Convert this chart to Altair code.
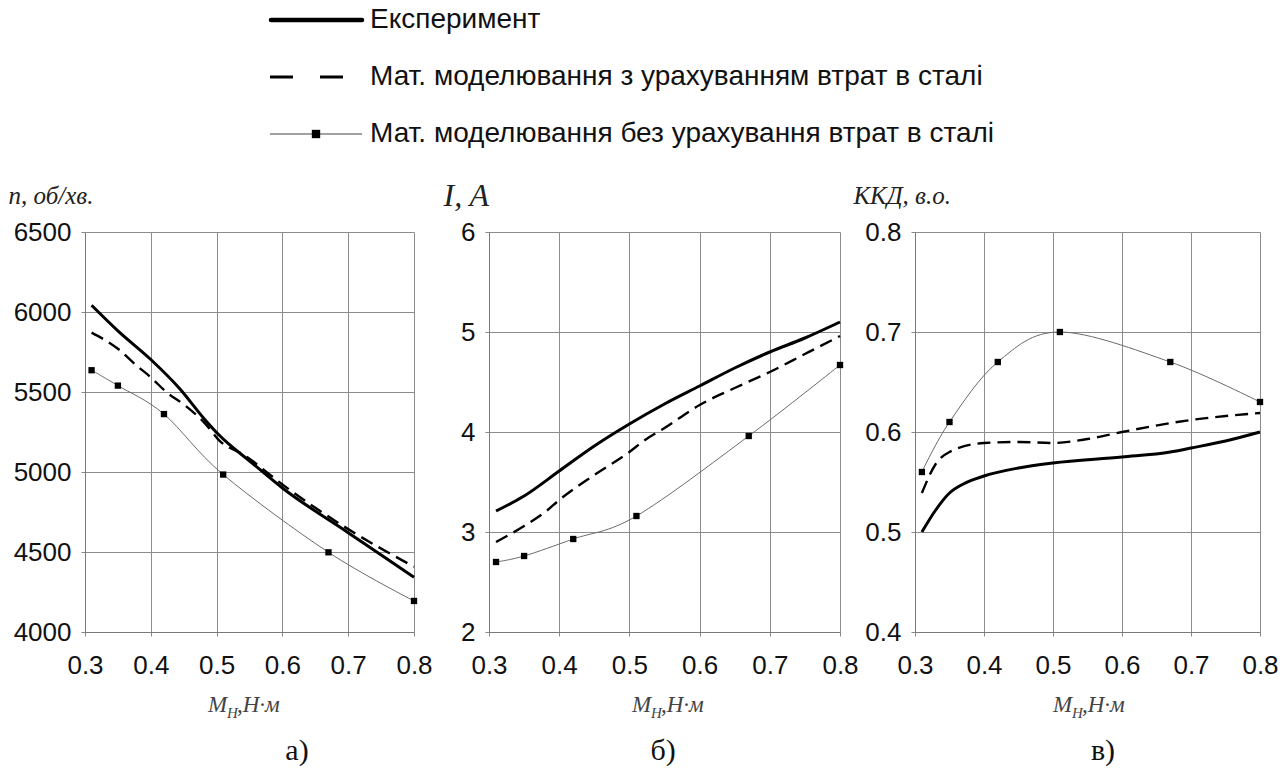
import altair as alt
import pandas as pd

SERIES = [
    "Експеримент",
    "Мат. моделювання з урахуванням втрат в сталі",
    "Мат. моделювання без урахування втрат в сталі",
]

X_TICKS = [0.3, 0.4, 0.5, 0.6, 0.7, 0.8]

# a) shaft speed n, rpm
n_exp_x = [0.31, 0.35, 0.40, 0.443, 0.483, 0.503, 0.554, 0.60, 0.70, 0.80]
n_exp_y = [6042, 5882, 5703, 5525, 5324, 5234, 5056, 4900, 4621, 4342]
n_mod_x = [0.31, 0.35, 0.377, 0.40, 0.423, 0.453, 0.483, 0.503, 0.544, 0.60, 0.70, 0.80]
n_mod_y = [5871, 5770, 5670, 5592, 5502, 5413, 5301, 5201, 5100, 4922, 4643, 4408]
n_pts_x = [0.31, 0.35, 0.42, 0.51, 0.67, 0.80]
n_pts_y = [5636, 5540, 5362, 4984, 4498, 4194]

# b) current I, A
i_exp_x = [0.31, 0.35, 0.40, 0.45, 0.50, 0.55, 0.60, 0.65, 0.70, 0.75, 0.80]
i_exp_y = [3.21, 3.36, 3.61, 3.86, 4.08, 4.28, 4.46, 4.64, 4.80, 4.94, 5.10]
i_mod_x = [0.31, 0.35, 0.38, 0.40, 0.45, 0.50, 0.52, 0.55, 0.60, 0.65, 0.70, 0.75, 0.80]
i_mod_y = [2.90, 3.06, 3.20, 3.32, 3.57, 3.80, 3.91, 4.04, 4.27, 4.44, 4.60, 4.78, 4.96]
i_pts_x = [0.31, 0.35, 0.42, 0.51, 0.67, 0.80]
i_pts_y = [2.70, 2.76, 2.93, 3.16, 3.96, 4.67]

# c) efficiency, p.u.
e_exp_x = [0.31, 0.33, 0.35, 0.37, 0.40, 0.45, 0.50, 0.60, 0.67, 0.70, 0.75, 0.80]
e_exp_y = [0.500, 0.522, 0.539, 0.548, 0.556, 0.564, 0.569, 0.575, 0.580, 0.584, 0.591, 0.600]
e_mod_x = [0.31, 0.33, 0.35, 0.40, 0.45, 0.50, 0.55, 0.60, 0.70, 0.80]
e_mod_y = [0.539, 0.568, 0.580, 0.589, 0.590, 0.589, 0.593, 0.600, 0.612, 0.619]
e_pts_x = [0.31, 0.35, 0.42, 0.51, 0.67, 0.80]
e_pts_y = [0.56, 0.61, 0.67, 0.70, 0.67, 0.63]

PLOT_H = 400
SANS = "Liberation Sans"
SERIF = "Liberation Serif"
NO_FRAME = alt.ViewBackground(strokeWidth=0, strokeOpacity=0)


def one_text(text, x, y, size, color="#111", italic=False, align="left", baseline="alphabetic"):
    kw = dict(font=SERIF, fontSize=size, color=color, align=align, baseline=baseline)
    if italic:
        kw["fontStyle"] = "italic"
    return (
        alt.Chart(pd.DataFrame({"t": [text]}))
        .mark_text(**kw)
        .encode(text="t:N", x=alt.value(x), y=alt.value(y))
    )


def panel(width, ex, ey, mx, my, px, py, ydom, yticks, yfmt, ytitle, ytitle_size,
          ytitle_x, xtitle_cx, sub_label, sub_cx):
    xs = alt.Scale(domain=[0.3, 0.8], nice=False, zero=False)
    ys = alt.Scale(domain=ydom, nice=False, zero=False)
    xaxis = alt.Axis(
        values=X_TICKS, format=".1f", title=None, labelFlush=False,
        labelFont=SANS, labelFontSize=26, labelColor="#111", labelPadding=16,
        tickSize=4, tickColor="#888", domainColor="#7a7a7a",
        gridColor="#8c8c8c", gridWidth=1, labelOverlap=False,
    )
    yaxis = alt.Axis(
        values=yticks, format=yfmt, title=ytitle, labelFlush=False,
        labelFont=SANS, labelFontSize=26, labelColor="#111", labelPadding=10,
        tickSize=4, tickColor="#888", domainColor="#7a7a7a",
        gridColor="#8c8c8c", gridWidth=1, labelOverlap=False,
        titleFont=SERIF, titleFontStyle="italic", titleFontWeight="normal",
        titleFontSize=ytitle_size, titleColor="#222", titleAngle=0,
        titleAlign="left", titleBaseline="middle", titleX=ytitle_x, titleY=-37,
    )
    enc = dict(x=alt.X("x:Q", scale=xs, axis=xaxis), y=alt.Y("y:Q", scale=ys, axis=yaxis))

    exp_line = alt.Chart(pd.DataFrame({"x": ex, "y": ey})).mark_line(
        color="black", strokeWidth=3, interpolate="monotone"
    ).encode(**enc)
    mod_line = alt.Chart(pd.DataFrame({"x": mx, "y": my})).mark_line(
        color="black", strokeWidth=2.4, strokeDash=[13, 7], interpolate="monotone"
    ).encode(**enc)
    pts_df = pd.DataFrame({"x": px, "y": py})
    thin_line = alt.Chart(pts_df).mark_line(
        color="#6a6a6a", strokeWidth=1, interpolate="cardinal"
    ).encode(**enc)
    markers = alt.Chart(pts_df).mark_point(
        shape="square", filled=True, size=40, color="black", opacity=1
    ).encode(**enc)

    # x-axis title M_H, N·m with a subscript
    x0 = xtitle_cx - 36
    base_y = 480
    t1 = one_text("M", x0, base_y, 23, color="#444", italic=True)
    t2 = one_text("Н", x0 + 19, base_y + 6, 15, color="#444", italic=True)
    t3 = one_text(",Н·м", x0 + 29, base_y, 23, color="#444", italic=True)
    sub = one_text(sub_label, sub_cx, 528, 30, color="#111", align="center")

    return alt.layer(exp_line, mod_line, thin_line, markers, t1, t2, t3, sub).properties(
        width=width, height=PLOT_H, view=NO_FRAME
    )


p1 = panel(329, n_exp_x, n_exp_y, n_mod_x, n_mod_y, n_pts_x, n_pts_y,
           [4000, 6500], [4000, 4500, 5000, 5500, 6000, 6500], "d",
           "n, об/хв.", 25, -77, 159, "а)", 212)
p2 = panel(351, i_exp_x, i_exp_y, i_mod_x, i_mod_y, i_pts_x, i_pts_y,
           [2, 6], [2, 3, 4, 5, 6], "d",
           "I, A", 32, -46, 179, "б)", 174)
p3 = panel(345, e_exp_x, e_exp_y, e_mod_x, e_mod_y, e_pts_x, e_pts_y,
           [0.4, 0.8], [0.4, 0.5, 0.6, 0.7, 0.8], ".1f",
           "ККД, в.о.", 25, -62, 174, "в)", 188)

# legend block above the panels
leg_df = pd.DataFrame({"series": SERIES, "row": [0, 1, 2]})
leg_y = alt.Y("row:Q", scale=alt.Scale(domain=[0, 2], reverse=True), axis=None)
leg_base = alt.Chart(leg_df)
leg_exp = leg_base.transform_filter("datum.row == 0").mark_rule(
    color="black", strokeWidth=4.5, strokeCap="round"
).encode(x=alt.value(186), x2=alt.value(277), y=leg_y)
leg_mod = leg_base.transform_filter("datum.row == 1").mark_rule(
    color="black", strokeWidth=3, strokeDash=[23, 27]
).encode(x=alt.value(185), x2=alt.value(260), y=leg_y)
leg_thin = leg_base.transform_filter("datum.row == 2").mark_rule(
    color="#444", strokeWidth=1.2
).encode(x=alt.value(185), x2=alt.value(277), y=leg_y)
leg_mark = leg_base.transform_filter("datum.row == 2").mark_point(
    shape="square", filled=True, size=70, color="black", opacity=1
).encode(x=alt.value(231), y=leg_y)
leg_text = leg_base.mark_text(
    font=SANS, fontSize=28, color="#111", align="left", baseline="middle"
).encode(x=alt.value(285), y=leg_y, text="series:N")

legend = alt.layer(leg_exp, leg_mod, leg_thin, leg_mark, leg_text).properties(
    width=600, height=114, view=NO_FRAME
)

row = alt.hconcat(p1, p2, p3, spacing=75, bounds="flush")
chart = (
    alt.vconcat(legend, row, spacing=98, bounds="flush")
    .properties(padding={"left": 8, "top": 6, "right": 5, "bottom": 2})
    .configure_view(strokeWidth=0)
    .configure(background="white")
)

chart.save("out.html", embed_options={"renderer": "svg", "actions": False})
